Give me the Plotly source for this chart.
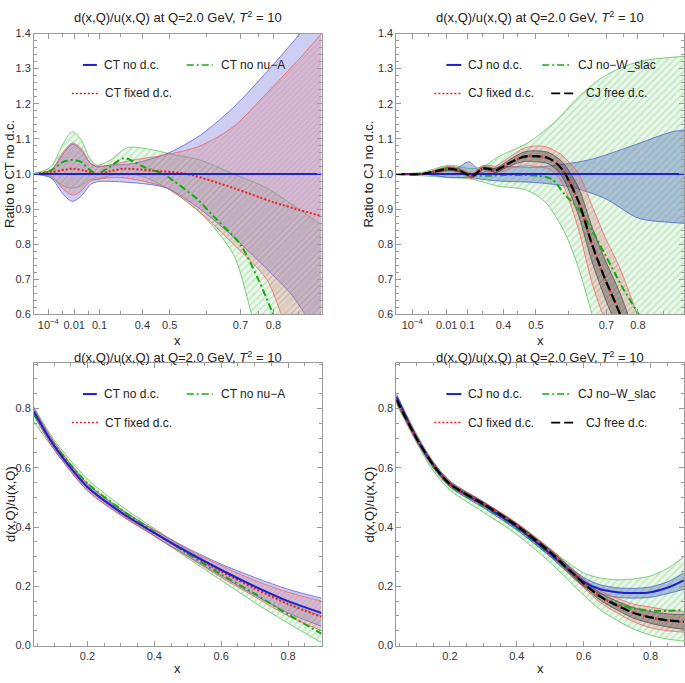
import plotly.graph_objects as go

W, H = 685, 683
FONT = "Liberation Sans, Arial, sans-serif"

# ---------------- data: top-left (CT ratio), x in axis units t (0..1) ----------------
ct_tick_pos = [0.05, 0.14, 0.228, 0.377, 0.472, 0.718, 0.833]
cj_tick_pos = [0.055, 0.175, 0.247, 0.372, 0.485, 0.73, 0.84]
top_tick_text = ["10<sup>\u22124</sup>", "0.01", "0.1", "0.4", "0.5", "0.7", "0.8"]

ctr_blue_up_t = [0, 0.058, 0.104, 0.133, 0.162, 0.197, 0.22, 0.266, 0.347, 0.468, 0.578, 0.694, 0.809, 0.925, 1.0]
ctr_blue_up_y = [1.0, 1.01, 1.06, 1.085, 1.07, 1.03, 1.022, 1.025, 1.03, 1.06, 1.11, 1.19, 1.29, 1.40, 1.48]
ctr_blue_lo_t = [0, 0.058, 0.104, 0.133, 0.162, 0.197, 0.22, 0.347, 0.462, 0.578, 0.694, 0.809, 0.902, 1.0]
ctr_blue_lo_y = [1.0, 0.99, 0.94, 0.922, 0.935, 0.97, 0.978, 0.975, 0.96, 0.90, 0.82, 0.73, 0.65, 0.52]

ctr_red_up_t = [0, 0.058, 0.104, 0.133, 0.162, 0.197, 0.22, 0.289, 0.347, 0.462, 0.578, 0.694, 0.809, 0.925, 1.0]
ctr_red_up_y = [1.0, 1.01, 1.065, 1.088, 1.075, 1.03, 1.02, 1.03, 1.04, 1.055, 1.08, 1.135, 1.23, 1.33, 1.40]
ctr_red_lo_t = [0, 0.058, 0.104, 0.133, 0.162, 0.197, 0.22, 0.289, 0.347, 0.462, 0.578, 0.694, 0.809, 0.861, 1.0]
ctr_red_lo_y = [1.0, 0.995, 0.955, 0.94, 0.95, 0.98, 0.985, 0.99, 0.985, 0.96, 0.89, 0.80, 0.70, 0.60, 0.35]

ctr_green_up_t = [0, 0.058, 0.104, 0.133, 0.162, 0.197, 0.22, 0.266, 0.324, 0.405, 0.486, 0.578, 0.694, 0.809, 1.0]
ctr_green_up_y = [1.0, 1.02, 1.09, 1.12, 1.10, 1.04, 1.025, 1.04, 1.075, 1.07, 1.055, 1.04, 1.0, 0.96, 0.855]
ctr_green_lo_t = [0, 0.058, 0.104, 0.133, 0.162, 0.197, 0.22, 0.289, 0.37, 0.462, 0.578, 0.694, 0.757, 0.809, 1.0]
ctr_green_lo_y = [1.0, 0.99, 0.965, 0.96, 0.965, 0.985, 0.985, 1.0, 0.995, 0.96, 0.89, 0.77, 0.60, 0.45, -0.1]

ctr_green_c_t = [0, 0.058, 0.104, 0.133, 0.162, 0.197, 0.22, 0.254, 0.312, 0.347, 0.382, 0.451, 0.486, 0.566, 0.624, 0.717, 0.78, 0.832, 0.879]
ctr_green_c_y = [1.0, 1.01, 1.035, 1.04, 1.035, 1.01, 1.0, 1.015, 1.045, 1.035, 1.02, 1.0, 0.98, 0.93, 0.88, 0.80, 0.70, 0.60, 0.50]
ctr_red_c_t = [0, 0.058, 0.133, 0.174, 0.22, 0.266, 0.312, 0.405, 0.532, 0.694, 0.832, 1.0]
ctr_red_c_y = [1.0, 1.005, 1.015, 1.01, 1.0, 1.008, 1.015, 1.01, 1.0, 0.96, 0.92, 0.88]
ctr_blue_c_t = [0, 1.0]
ctr_blue_c_y = [1.0, 1.0]

# ---------------- data: top-right (CJ ratio) ----------------
cjr_blue_up_t = [0, 0.09, 0.183, 0.217, 0.252, 0.275, 0.298, 0.356, 0.495, 0.668, 0.819, 0.957, 1.0]
cjr_blue_up_y = [1.0, 1.0, 1.01, 1.02, 1.035, 1.02, 1.005, 1.02, 1.02, 1.04, 1.08, 1.12, 1.125]
cjr_blue_lo_t = [0, 0.09, 0.183, 0.252, 0.298, 0.356, 0.495, 0.61, 0.726, 0.842, 0.957, 1.0]
cjr_blue_lo_y = [1.0, 1.0, 0.99, 0.99, 0.985, 0.98, 0.975, 0.962, 0.93, 0.874, 0.862, 0.86]

cjr_c_t = [0, 0.09, 0.148, 0.183, 0.217, 0.264, 0.298, 0.321, 0.344, 0.379, 0.414, 0.449, 0.495, 0.529, 0.564, 0.587, 0.634, 0.68, 0.726, 0.778, 0.842]
cjr_c_y = [1.0, 1.0, 1.01, 1.015, 1.01, 0.995, 1.015, 1.015, 1.01, 1.025, 1.04, 1.05, 1.05, 1.045, 1.025, 1.0, 0.92, 0.80, 0.70, 0.60, 0.45]
cjr_red_hw = [0.0, 0.002, 0.005, 0.007, 0.007, 0.008, 0.008, 0.01, 0.012, 0.015, 0.02, 0.025, 0.03, 0.03, 0.035, 0.045, 0.08, 0.11, 0.12, 0.13, 0.14]
cjr_black_hw = [0.0, 0.001, 0.003, 0.004, 0.004, 0.004, 0.004, 0.005, 0.006, 0.008, 0.011, 0.014, 0.016, 0.016, 0.019, 0.024, 0.04, 0.05, 0.055, 0.06, 0.065]

cjr_green_c_t = [0, 0.09, 0.148, 0.183, 0.217, 0.252, 0.287, 0.321, 0.379, 0.495, 0.541, 0.587, 0.634, 0.68, 0.726, 0.784, 0.842, 0.899]
cjr_green_c_y = [1.0, 1.0, 1.008, 1.015, 1.01, 1.0, 0.995, 0.995, 0.997, 0.995, 0.985, 0.94, 0.90, 0.84, 0.77, 0.68, 0.60, 0.50]
cjr_green_up_t = [0, 0.09, 0.183, 0.264, 0.31, 0.356, 0.46, 0.553, 0.634, 0.726, 0.842, 1.0]
cjr_green_up_y = [1.0, 1.005, 1.025, 1.015, 1.025, 1.05, 1.09, 1.15, 1.22, 1.28, 1.32, 1.335]
cjr_green_lo_t = [0, 0.09, 0.183, 0.264, 0.31, 0.356, 0.449, 0.518, 0.587, 0.634, 0.68, 0.726, 0.85, 1.0]
cjr_green_lo_y = [1.0, 0.995, 0.99, 0.985, 0.975, 0.965, 0.955, 0.92, 0.83, 0.73, 0.60, 0.45, 0.1, -0.3]

# ---------------- data: bottom-left (CT d/u) ----------------
ct_x = [0.04, 0.1, 0.2, 0.3, 0.4, 0.5, 0.6, 0.7, 0.8, 0.9]
ct_blue_c = [0.79, 0.675, 0.535, 0.45, 0.38, 0.315, 0.255, 0.20, 0.15, 0.11]
ct_blue_up = [0.80, 0.687, 0.547, 0.46, 0.39, 0.328, 0.275, 0.23, 0.19, 0.16]
ct_blue_lo = [0.778, 0.663, 0.523, 0.44, 0.37, 0.302, 0.235, 0.17, 0.11, 0.065]
ct_red_c = [0.79, 0.675, 0.535, 0.45, 0.38, 0.313, 0.25, 0.193, 0.14, 0.097]
ct_red_up = [0.80, 0.687, 0.547, 0.46, 0.39, 0.325, 0.27, 0.22, 0.18, 0.15]
ct_red_lo = [0.778, 0.663, 0.523, 0.44, 0.37, 0.30, 0.23, 0.165, 0.10, 0.05]
ct_green_c = [0.78, 0.68, 0.548, 0.46, 0.383, 0.31, 0.24, 0.175, 0.105, 0.04]
ct_green_up = [0.805, 0.695, 0.562, 0.472, 0.395, 0.322, 0.258, 0.20, 0.145, 0.10]
ct_green_lo = [0.755, 0.662, 0.532, 0.445, 0.37, 0.295, 0.22, 0.145, 0.075, 0.01]

# ---------------- data: bottom-right (CJ d/u) ----------------
cj_x = [0.04, 0.1, 0.15, 0.2, 0.3, 0.4, 0.5, 0.6, 0.65, 0.7, 0.75, 0.8, 0.85, 0.9]
cj_blue_c = [0.84, 0.70, 0.61, 0.545, 0.475, 0.40, 0.31, 0.215, 0.19, 0.18, 0.177, 0.18, 0.195, 0.22]
cj_blue_up = [0.85, 0.71, 0.62, 0.555, 0.485, 0.41, 0.32, 0.23, 0.205, 0.195, 0.193, 0.198, 0.215, 0.245]
cj_blue_lo = [0.83, 0.69, 0.60, 0.535, 0.465, 0.39, 0.30, 0.20, 0.175, 0.163, 0.16, 0.163, 0.175, 0.19]
cj_black_c = [0.83, 0.70, 0.61, 0.545, 0.478, 0.405, 0.315, 0.21, 0.165, 0.135, 0.11, 0.095, 0.085, 0.08]
cj_black_hw = [0.008, 0.006, 0.005, 0.005, 0.005, 0.006, 0.008, 0.01, 0.012, 0.015, 0.018, 0.02, 0.022, 0.025]
cj_red_hw = [0.012, 0.009, 0.008, 0.008, 0.008, 0.009, 0.012, 0.015, 0.02, 0.025, 0.03, 0.035, 0.035, 0.035]
cj_green_c = [0.83, 0.70, 0.605, 0.54, 0.47, 0.395, 0.305, 0.21, 0.165, 0.14, 0.125, 0.118, 0.117, 0.12]
cj_green_up = [0.845, 0.715, 0.62, 0.555, 0.485, 0.41, 0.325, 0.245, 0.228, 0.222, 0.225, 0.235, 0.26, 0.30]
cj_green_lo = [0.815, 0.685, 0.59, 0.525, 0.45, 0.375, 0.28, 0.17, 0.12, 0.085, 0.055, 0.035, 0.022, 0.015]

# ---------------- styles ----------------
BLUE = "rgb(30,30,215)"
RED = "rgb(240,30,30)"
GREEN = "rgb(20,170,20)"
BLACK = "rgb(0,0,0)"

GREEN_BAND = dict(fill="rgba(140,210,140,0.18)", pattern=dict(shape="/", fgcolor="rgba(90,190,90,0.55)", bgcolor="rgba(150,215,150,0.18)", size=5, solidity=0.35), edge="rgba(80,190,80,0.9)")
RED_BAND = dict(fill="rgba(220,120,140,0.3)", pattern=dict(shape="/", fgcolor="rgba(225,90,90,0.45)", bgcolor="rgba(215,135,135,0.25)", size=4, solidity=0.35), edge="rgba(235,90,90,0.9)")
BLUE_BAND_CT = dict(fill="rgba(105,105,220,0.33)", pattern=None, edge="rgba(80,80,220,0.9)")
BLUE_BAND_CJ = dict(fill="rgba(70,105,185,0.38)", pattern=None, edge="rgba(60,90,200,0.9)")
BLACK_BAND = dict(fill="rgba(50,50,50,0.35)", pattern=None, edge="rgba(60,60,60,0.8)")

fig = go.Figure()


def add_band(xlo, ylo, xup, yup, ax, style):
    xa, ya = ax
    fig.add_trace(go.Scatter(x=xlo, y=ylo, xaxis=xa, yaxis=ya, mode="lines",
                             line=dict(color=style["edge"], width=0.8, shape="spline", smoothing=0.8),
                             showlegend=False, hoverinfo="skip"))
    kw = dict(fill="tonexty", fillcolor=style["fill"])
    if style["pattern"] is not None:
        kw["fillpattern"] = style["pattern"]
    fig.add_trace(go.Scatter(x=xup, y=yup, xaxis=xa, yaxis=ya, mode="lines",
                             line=dict(color=style["edge"], width=0.8, shape="spline", smoothing=0.8),
                             showlegend=False, hoverinfo="skip", **kw))


def add_line(x, y, ax, color, width, dash="solid"):
    xa, ya = ax
    fig.add_trace(go.Scatter(x=x, y=y, xaxis=xa, yaxis=ya, mode="lines",
                             line=dict(color=color, width=width, dash=dash, shape="spline", smoothing=0.8),
                             showlegend=False, hoverinfo="skip"))


DASHDOT = "7px,3px,2px,3px"
DOT = "2px,2px"
LDASH = "9px,4px"

# top-left
A = ("x", "y")
add_band(ctr_green_lo_t, ctr_green_lo_y, ctr_green_up_t, ctr_green_up_y, A, GREEN_BAND)
add_band(ctr_blue_lo_t, ctr_blue_lo_y, ctr_blue_up_t, ctr_blue_up_y, A, BLUE_BAND_CT)
add_band(ctr_red_lo_t, ctr_red_lo_y, ctr_red_up_t, ctr_red_up_y, A, RED_BAND)
add_line(ctr_green_c_t, ctr_green_c_y, A, GREEN, 2, DASHDOT)
add_line(ctr_red_c_t, ctr_red_c_y, A, RED, 2, DOT)
add_line(ctr_blue_c_t, ctr_blue_c_y, A, BLUE, 2)

# top-right
B = ("x2", "y2")
cjr_red_up = [c + w for c, w in zip(cjr_c_y, cjr_red_hw)]
cjr_red_lo = [c - w for c, w in zip(cjr_c_y, cjr_red_hw)]
cjr_blk_up = [c + w for c, w in zip(cjr_c_y, cjr_black_hw)]
cjr_blk_lo = [c - w for c, w in zip(cjr_c_y, cjr_black_hw)]
add_band(cjr_green_lo_t, cjr_green_lo_y, cjr_green_up_t, cjr_green_up_y, B, GREEN_BAND)
add_band(cjr_blue_lo_t, cjr_blue_lo_y, cjr_blue_up_t, cjr_blue_up_y, B, BLUE_BAND_CJ)
add_band(cjr_c_t, cjr_red_lo, cjr_c_t, cjr_red_up, B, RED_BAND)
add_band(cjr_c_t, cjr_blk_lo, cjr_c_t, cjr_blk_up, B, BLACK_BAND)
add_line(cjr_green_c_t, cjr_green_c_y, B, GREEN, 2, DASHDOT)
add_line([0, 1], [1.0, 1.0], B, BLUE, 2)
add_line(cjr_c_t, cjr_c_y, B, RED, 2, DOT)
add_line(cjr_c_t, cjr_c_y, B, BLACK, 2.2, LDASH)

# bottom-left
C = ("x3", "y3")
add_band(ct_x, ct_green_lo, ct_x, ct_green_up, C, GREEN_BAND)
add_band(ct_x, ct_blue_lo, ct_x, ct_blue_up, C, BLUE_BAND_CT)
add_band(ct_x, ct_red_lo, ct_x, ct_red_up, C, RED_BAND)
add_line(ct_x, ct_green_c, C, GREEN, 2, DASHDOT)
add_line(ct_x, ct_red_c, C, RED, 2, DOT)
add_line(ct_x, ct_blue_c, C, BLUE, 2)

# bottom-right
D = ("x4", "y4")
cj_red_up = [c + w for c, w in zip(cj_black_c, cj_red_hw)]
cj_red_lo = [c - w for c, w in zip(cj_black_c, cj_red_hw)]
cj_blk_up = [c + w for c, w in zip(cj_black_c, cj_black_hw)]
cj_blk_lo = [c - w for c, w in zip(cj_black_c, cj_black_hw)]
add_band(cj_x, cj_green_lo, cj_x, cj_green_up, D, GREEN_BAND)
add_band(cj_x, cj_blue_lo, cj_x, cj_blue_up, D, BLUE_BAND_CJ)
add_band(cj_x, cj_red_lo, cj_x, cj_red_up, D, RED_BAND)
add_band(cj_x, cj_blk_lo, cj_x, cj_blk_up, D, BLACK_BAND)
add_line(cj_x, cj_green_c, D, GREEN, 2, DASHDOT)
add_line(cj_x, cj_blue_c, D, BLUE, 2)
add_line(cj_x, cj_black_c, D, RED, 2, DOT)
add_line(cj_x, cj_black_c, D, BLACK, 2.2, LDASH)

# ---------------- axes ----------------
def px(x):
    return x / W


def py(y):
    return 1 - y / H


XL = [px(34), px(322)]
XR = [px(397), 1.0]
YT = [py(314), py(28)]
YB = [py(651), py(363)]

AXC = "#9a9a9a"
TICKF = dict(family=FONT, size=11, color="#333")
common = dict(showline=True, linecolor=AXC, linewidth=1, mirror="ticks", ticks="inside",
              ticklen=5, tickcolor=AXC, showgrid=False, zeroline=False, tickfont=TICKF)

fig.update_layout(
    xaxis=dict(domain=XL, anchor="y", range=[0, 1], tickmode="array", tickvals=ct_tick_pos, ticktext=top_tick_text,
               minor=dict(tickvals=[0.1, 0.19, 0.3, 0.6, 0.78, 0.92], ticks="inside", ticklen=3, tickcolor=AXC), **common),
    yaxis=dict(domain=YT, anchor="x", range=[0.6, 1.4], dtick=0.1, tickformat=".1f",
               minor=dict(dtick=0.02, ticks="inside", ticklen=3, tickcolor=AXC), **common),
    xaxis2=dict(domain=XR, anchor="y2", range=[0, 1], tickmode="array", tickvals=cj_tick_pos, ticktext=top_tick_text,
                minor=dict(tickvals=[0.11, 0.3, 0.42, 0.6, 0.79, 0.93], ticks="inside", ticklen=3, tickcolor=AXC), **common),
    yaxis2=dict(domain=YT, anchor="x2", range=[0.6, 1.4], dtick=0.1, tickformat=".1f",
                minor=dict(dtick=0.02, ticks="inside", ticklen=3, tickcolor=AXC), **common),
    xaxis3=dict(domain=XL, anchor="y3", range=[0.04, 0.9], dtick=0.2, tickformat=".1f",
                minor=dict(dtick=0.05, ticks="inside", ticklen=3, tickcolor=AXC), **common),
    yaxis3=dict(domain=YB, anchor="x3", range=[0, 0.955], dtick=0.2, tickformat=".1f",
                minor=dict(dtick=0.05, ticks="inside", ticklen=3, tickcolor=AXC), **common),
    xaxis4=dict(domain=XR, anchor="y4", range=[0.04, 0.9], dtick=0.2, tickformat=".1f",
                minor=dict(dtick=0.05, ticks="inside", ticklen=3, tickcolor=AXC), **common),
    yaxis4=dict(domain=YB, anchor="x4", range=[0, 0.955], dtick=0.2, tickformat=".1f",
                minor=dict(dtick=0.05, ticks="inside", ticklen=3, tickcolor=AXC), **common),
)

# ---------------- text annotations & legend samples ----------------
TITLE = "d(x,Q)/u(x,Q) at Q=2.0 GeV, <i>T</i><sup>2</sup> = 10"
ann = []
shapes = []


def text(x, y, s, size=12, anchor="center", angle=0):
    ann.append(dict(x=px(x), y=py(y), xref="paper", yref="paper", text=s, showarrow=False,
                    xanchor=anchor, yanchor="middle", textangle=angle,
                    font=dict(family=FONT, size=size, color="#222")))


def sample(x0, x1, y, color, dash, width=2):
    shapes.append(dict(type="line", xref="paper", yref="paper", x0=px(x0), x1=px(x1), y0=py(y), y1=py(y),
                       line=dict(color=color, width=width, dash=dash)))


for cx, cy in [(178, 11), (541, 11), (178, 357), (541, 357)]:
    text(cx, cy, TITLE, 13)
for cx, cy in [(178, 340), (541, 340), (178, 674), (541, 674)]:
    text(cx, cy, "x", 13)
text(10, 171, "Ratio to CT no d.c.", 13, angle=-90)
text(370, 171, "Ratio to CJ no d.c.", 13, angle=-90)
text(10, 507, "d(x,Q)/u(x,Q)", 13, angle=-90)
text(370, 507, "d(x,Q)/u(x,Q)", 13, angle=-90)

for dy in (0, 335):
    # CT legends
    sample(83, 97, 60 + dy, BLUE, "solid")
    text(102, 60 + dy, "CT no d.c.", 12, "left")
    sample(187, 213, 60 + dy, GREEN, DASHDOT, 1.6)
    text(219, 60 + dy, "CT no nu\u2212A", 12, "left")
    sample(72, 98, 89 + dy, RED, DOT, 1.6)
    text(103, 89 + dy, "CT fixed d.c.", 12, "left")
    # CJ legends
    sample(447, 462, 60 + dy, BLUE, "solid")
    text(467, 60 + dy, "CJ no d.c.", 12, "left")
    sample(543, 570, 60 + dy, GREEN, DASHDOT, 1.6)
    text(577, 60 + dy, "CJ no\u2212W_slac", 12, "left")
    sample(435, 462, 89 + dy, RED, DOT, 1.6)
    text(467, 89 + dy, "CJ fixed d.c.", 12, "left")
    sample(552, 578, 89 + dy, BLACK, LDASH, 1.8)
    text(585, 89 + dy, "CJ free d.c.", 12, "left")

fig.update_layout(width=W, height=H, margin=dict(l=0, r=0, t=0, b=0),
                  paper_bgcolor="white", plot_bgcolor="white",
                  annotations=ann, shapes=shapes, showlegend=False,
                  font=dict(family=FONT))

fig.write_html("out.html", config={"displayModeBar": False},
               post_script="document.body.style.margin='0';document.body.style.padding='0';")
